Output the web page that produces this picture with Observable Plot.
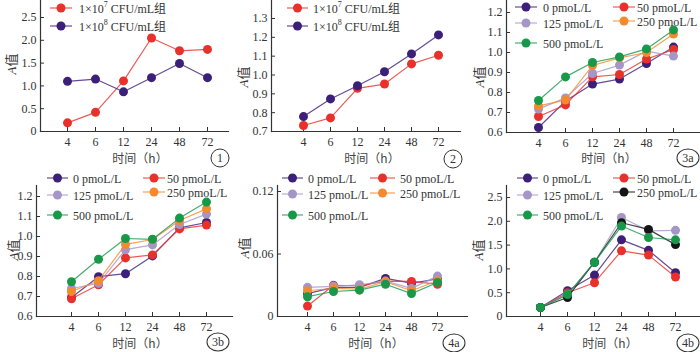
<!DOCTYPE html>
<html><head><meta charset="utf-8">
<script src="https://cdn.jsdelivr.net/npm/d3@7"></script>
<script src="https://cdn.jsdelivr.net/npm/@observablehq/plot@0.6"></script>
<style>
body{margin:0;background:#fff}
#root{position:relative;width:700px;height:352px;overflow:hidden;background:#fff;font-family:"Liberation Serif","Noto Sans CJK SC",serif;color:#333}
.lgt{position:absolute;font-size:12px;line-height:14px;white-space:nowrap;transform:translateY(-50%)}
.lgt sup{font-size:8px;vertical-align:6px;line-height:0}
.ylab{position:absolute;font-size:13px;white-space:nowrap;transform:translate(-50%,-50%) rotate(-90deg);font-family:"Liberation Serif","Noto Sans CJK SC",serif}
.ylab i{font-family:"Liberation Serif",serif}
.xlab{position:absolute;font-size:12px;white-space:nowrap;transform:translate(-50%,-50%);font-family:"Noto Sans CJK SC",sans-serif;color:#444}
.circ{position:absolute;height:17px;border:1px solid #333;border-radius:50%;transform:translate(-50%,-50%);font-size:12px;line-height:17px;text-align:center}
</style></head><body><div id="root"></div>
<script>
// ---------- data ----------
const times = ["4","6","12","24","48","72"];

// panel 1
const p1Names = ["1×10<sup>7</sup> CFU/mL组","1×10<sup>8</sup> CFU/mL组"];
const p1_1e7 = [0.19, 0.42, 1.11, 2.05, 1.77, 1.80];
const p1_1e8 = [1.10, 1.15, 0.87, 1.18, 1.49, 1.18];
const p1Ticks = [0, 0.5, 1.0, 1.5, 2.0, 2.5];
const p1Labels = ["0","0.5","1.0","1.5","2.0","2.5"];

// panel 2
const p2_1e7 = [0.732, 0.772, 0.929, 0.952, 1.059, 1.105];
const p2_1e8 = [0.779, 0.873, 0.943, 1.017, 1.112, 1.213];
const p2Ticks = [0.7, 0.8, 0.9, 1.0, 1.1, 1.2, 1.3];
const p2Labels = ["0.7","0.8","0.9","1.0","1.1","1.2","1.3"];

const doseNames = ["0 pmoL/L","50 pmoL/L","125 pmoL/L","250 pmoL/L","500 pmoL/L"];

// panel 3a
const p3a_0   = [0.625, 0.757, 0.842, 0.867, 0.945, 1.027];
const p3a_50  = [0.680, 0.738, 0.878, 0.890, 0.967, 1.015];
const p3a_125 = [0.717, 0.773, 0.895, 0.937, 1.007, 0.982];
const p3a_250 = [0.733, 0.762, 0.935, 0.973, 1.000, 1.092];
const p3a_500 = [0.760, 0.878, 0.950, 0.978, 1.018, 1.113];
const p3Ticks = [0.6, 0.7, 0.8, 0.9, 1.0, 1.1, 1.2];
const p3Labels = ["0.6","0.7","0.8","0.9","1.0","1.1","1.2"];

// panel 3b
const p3b_0   = [0.695, 0.799, 0.814, 0.903, 1.043, 1.070];
const p3b_50  = [0.689, 0.759, 0.893, 0.908, 1.038, 1.057];
const p3b_125 = [0.740, 0.766, 0.934, 0.958, 1.060, 1.112];
const p3b_250 = [0.725, 0.779, 0.961, 0.985, 1.080, 1.138];
const p3b_500 = [0.774, 0.886, 0.990, 0.986, 1.092, 1.172];

// panel 4a
const p4a_0   = [0.022, 0.028, 0.028, 0.0366, 0.032, 0.036];
const p4a_50  = [0.010, 0.030, 0.0295, 0.034, 0.0337, 0.031];
const p4a_125 = [0.028, 0.029, 0.0305, 0.034, 0.027, 0.0388];
const p4a_250 = [0.0247, 0.027, 0.0263, 0.0334, 0.0247, 0.0343];
const p4a_500 = [0.019, 0.024, 0.0253, 0.031, 0.022, 0.0327];
const p4aTicks = [0, 0.06, 0.12];
const p4aLabels = ["0","0.06","0.12"];

// panel 4b
const p4b_0   = [0.19, 0.54, 0.87, 1.61, 1.39, 0.92];
const p4b_50  = [0.19, 0.50, 0.71, 1.38, 1.29, 0.83];
const p4b_125 = [0.19, 0.46, 1.14, 2.08, 1.80, 1.81];
const p4b_250 = [0.19, 0.40, 1.14, 1.97, 1.83, 1.51];
const p4b_500 = [0.19, 0.46, 1.14, 1.90, 1.66, 1.61];
const p4bTicks = [0, 0.5, 1.0, 1.5, 2.0, 2.5];
const p4bLabels = ["0","0.5","1.0","1.5","2.0","2.5"];

const xTitle = "时间（h）";
const yTitle = "<i>A</i>值";

// ---------- styles ----------
const C = {purple:"#3c1f79", red:"#e8312b", lav:"#a596c8", orange:"#f5892d", green:"#18994a", black:"#151515"};
const doseColors = [C.purple, C.red, C.lav, C.orange, C.green];
const dose4bColors = [C.purple, C.red, C.lav, C.black, C.green];

const root = document.getElementById("root");

function panel(cfg) {
  const marks = [
    Plot.frame({anchor: "left", stroke: "#333", strokeWidth: 1.2}),
    Plot.frame({anchor: "bottom", stroke: "#333", strokeWidth: 1.2}),
    Plot.axisX({anchor: "bottom", tickSize: -4, tickPadding: 10, fontSize: 12, stroke: "#333", fill: "#333", label: null}),
    Plot.axisY({anchor: "left", ticks: cfg.ticks, tickFormat: d => cfg.labels[cfg.ticks.indexOf(d)], tickSize: -4, tickPadding: 8, fontSize: 12, stroke: "#333", fill: "#333", label: null})
  ];
  cfg.series.forEach((vals, k) => {
    const data = times.map((t, i) => ({t, v: vals[i]}));
    marks.push(Plot.line(data, {x: "t", y: "v", stroke: cfg.colors[k], strokeWidth: 1.2, strokeOpacity: 0.8}));
    marks.push(Plot.dot(data, {x: "t", y: "v", fill: cfg.colors[k], r: 4.5}));
  });
  const svg = Plot.plot({
    width: 700, height: 352,
    marginLeft: cfg.box[0], marginTop: cfg.box[1], marginRight: 700 - cfg.box[2], marginBottom: 352 - cfg.box[3],
    style: {position: "absolute", left: "0px", top: "0px", background: "transparent", overflow: "visible", fontFamily: "'Liberation Serif', serif", fontSize: "12px", color: "#333"},
    x: {type: "point", domain: times, range: cfg.xr, axis: null, label: null},
    y: {domain: [cfg.ticks[0], cfg.ticks[cfg.ticks.length - 1]], range: cfg.yr, axis: null, label: null},
    marks
  });
  root.appendChild(svg);

  // legend
  cfg.legend.forEach(([x0, x1, tx, y, color, html]) => {
    const s = d3.select(root).append("svg")
      .style("position", "absolute").style("left", (x0) + "px").style("top", (y - 6) + "px")
      .attr("width", x1 - x0).attr("height", 12).style("overflow", "visible");
    s.append("line").attr("x1", 0).attr("x2", x1 - x0).attr("y1", 6).attr("y2", 6)
      .attr("stroke", color).attr("stroke-width", 1.2).attr("stroke-opacity", 0.8);
    s.append("circle").attr("cx", (x1 - x0) / 2).attr("cy", 6).attr("r", 4.5).attr("fill", color);
    const d = document.createElement("div");
    d.className = "lgt"; d.style.left = tx + "px"; d.style.top = (y + 1) + "px"; d.innerHTML = html;
    root.appendChild(d);
  });
  // axis titles
  const yl = document.createElement("div");
  yl.className = "ylab"; yl.style.left = cfg.yl[0] + "px"; yl.style.top = cfg.yl[1] + "px"; yl.innerHTML = yTitle;
  root.appendChild(yl);
  const xl = document.createElement("div");
  xl.className = "xlab"; xl.style.left = cfg.xl[0] + "px"; xl.style.top = cfg.xl[1] + "px"; xl.textContent = xTitle;
  root.appendChild(xl);
  const c = document.createElement("div");
  c.className = "circ"; c.style.left = cfg.tag[0] + "px"; c.style.top = cfg.tag[1] + "px";
  c.style.width = (cfg.tag[2].length > 1 ? 21 : 17) + "px"; c.textContent = cfg.tag[2];
  root.appendChild(c);
}

function doseLegend(c1, c2, ys1, ys2, colors) {
  return [
    [c1[0], c1[1], c1[2], ys1[0], colors[0], doseNames[0]],
    [c1[0], c1[1], c1[2], ys1[1], colors[2], doseNames[2]],
    [c1[0], c1[1], c1[2], ys1[2], colors[4], doseNames[4]],
    [c2[0], c2[1], c2[2], ys2[0], colors[1], doseNames[1]],
    [c2[0], c2[1], c2[2], ys2[1], colors[3], doseNames[3]]
  ];
}

panel({box: [40, 0, 228, 131], xr: [52, 222], yr: [131, 17], ticks: p1Ticks, labels: p1Labels,
  series: [p1_1e7, p1_1e8], colors: [C.red, C.purple],
  legend: [[50, 72, 79, 8, C.red, p1Names[0]], [50, 72, 79, 26, C.purple, p1Names[1]]],
  yl: [10, 64], xl: [140, 157], tag: [220, 158, "1"]});

panel({box: [271, 0, 460, 131], xr: [288, 453], yr: [131, 18], ticks: p2Ticks, labels: p2Labels,
  series: [p2_1e7, p2_1e8], colors: [C.red, C.purple],
  legend: [[287, 308, 313, 8, C.red, p1Names[0]], [287, 308, 313, 26, C.purple, p1Names[1]]],
  yl: [242, 77], xl: [372, 157], tag: [453, 159, "2"]});

panel({box: [506, 0, 700, 132], xr: [522, 689], yr: [132, 12], ticks: p3Ticks, labels: p3Labels,
  series: [p3a_0, p3a_50, p3a_125, p3a_250, p3a_500], colors: doseColors,
  legend: doseLegend([515, 537, 543], [613, 635, 637], [7, 23, 43], [7, 21], doseColors),
  yl: [478, 77], xl: [609, 157], tag: [688, 158, "3a"]});

panel({box: [36, 185, 232, 316], xr: [56, 220], yr: [316, 196], ticks: p3Ticks, labels: p3Labels,
  series: [p3b_0, p3b_50, p3b_125, p3b_250, p3b_500], colors: doseColors,
  legend: doseLegend([47, 68, 73], [143, 165, 167], [178, 195, 215], [178, 192], doseColors),
  yl: [12, 250], xl: [140, 342], tag: [218, 342, "3b"]});

panel({box: [277, 185, 467, 316], xr: [292, 451], yr: [316, 191], ticks: p4aTicks, labels: p4aLabels,
  series: [p4a_0, p4a_50, p4a_125, p4a_250, p4a_500], colors: doseColors,
  legend: doseLegend([282, 303, 308], [370, 395, 400], [178, 194, 215], [178, 193], doseColors),
  yl: [243, 248], xl: [376, 342], tag: [454, 343, "4a"]});

panel({box: [506, 185, 700, 316], xr: [525, 690], yr: [316, 197], ticks: p4bTicks, labels: p4bLabels,
  series: [p4b_0, p4b_50, p4b_125, p4b_250, p4b_500], colors: dose4bColors,
  legend: doseLegend([517, 538, 543], [613, 635, 637], [178, 195, 215], [178, 192], dose4bColors),
  yl: [477, 250], xl: [610, 342], tag: [688, 343, "4b"]});
</script></body></html>
